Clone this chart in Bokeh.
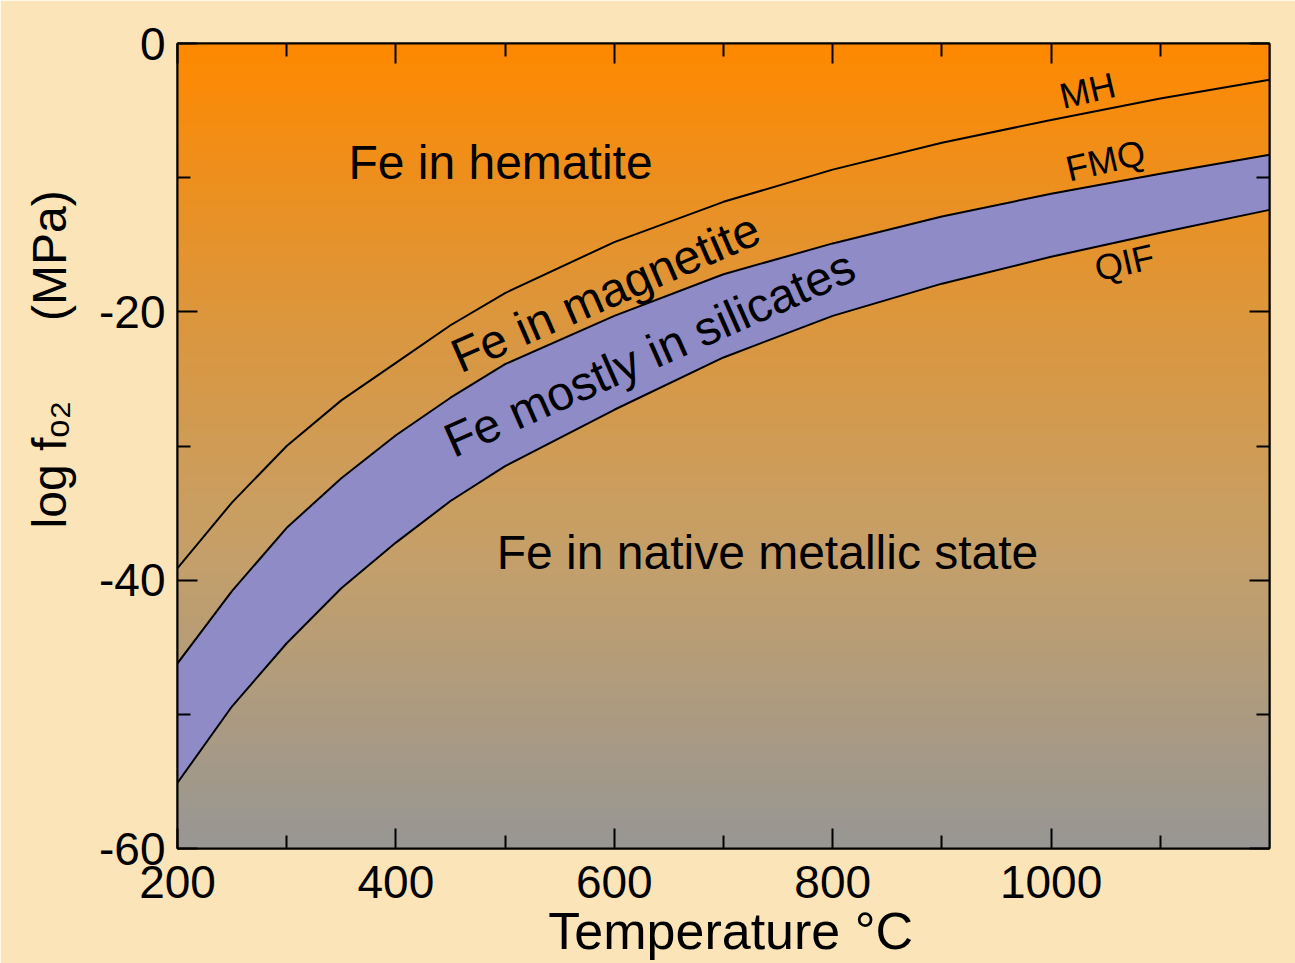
import numpy as np
from bokeh.plotting import figure
from bokeh.models import Range1d, LinearAxis, FixedTicker, Label
from bokeh.embed import file_html
from bokeh.resources import INLINE

# ---- data ----
temps = [200, 250, 300, 350, 400, 450, 500, 600, 700, 800, 900, 1000, 1100, 1200]
mh = [-39.1, -34.2, -30.0, -26.6, -23.8, -21.0, -18.6, -14.8, -11.8, -9.4, -7.4, -5.7, -4.1, -2.7]
fmq = [-46.2, -40.8, -36.1, -32.4, -29.2, -26.4, -23.9, -20.3, -17.2, -14.9, -12.9, -11.2, -9.7, -8.3]
qif = [-55.1, -49.4, -44.7, -40.6, -37.2, -34.1, -31.5, -27.3, -23.4, -20.3, -17.9, -15.9, -14.1, -12.4]

x_major = [200, 400, 600, 800, 1000]
x_minor = [300, 500, 700, 900, 1100]
y_major = [0, -20, -40, -60]
y_minor = [-10, -30, -50]
y_tick_labels = {0: "0", -20: "-20", -40: "-40", -60: "-60"}

x_title = "\u00a0Temperature \u00b0C"
y_title = "\u00a0" * 13 + "log f\u2092\u2082" + "\u00a0" * 6 + "(MPa)"

region_labels = ["Fe in hematite", "Fe in magnetite", "Fe mostly in silicates",
                 "Fe in native metallic state"]
curve_labels = ["MH", "FMQ", "QIF"]

FONT = "Liberation Sans"
PANEL = "#FBE4B7"

# page-pixel helpers (frame spans page x 177..1269, y 43..848)
def px2x(px):
    return 200 + (px - 177) * 1000 / 1092

def py2y(py):
    return -(py - 43) * 60 / 805

p = figure(width=1295, height=963, output_backend="svg", toolbar_location=None,
           x_range=Range1d(200, 1200), y_range=Range1d(-60, 0),
           min_border_left=177, min_border_right=26, min_border_top=43,
           min_border_bottom=115)
p.border_fill_color = PANEL
p.background_fill_color = PANEL
p.outline_line_color = "black"
p.outline_line_width = 2
p.grid.visible = False

# background gradient (orange -> grey)
n = 300
t = np.linspace(0, 1, n)  # 0 = bottom, 1 = top
stops_t = [0.0, 0.37, 0.68, 1.0]
r = np.interp(t, stops_t, [152, 198, 222, 255])
g = np.interp(t, stops_t, [151, 160, 150, 137])
b = np.interp(t, stops_t, [148, 105, 58, 0])
img = np.empty((n, 1), dtype=np.uint32)
view = img.view(dtype=np.uint8).reshape((n, 1, 4))
view[:, 0, 0] = r.astype(np.uint8)
view[:, 0, 1] = g.astype(np.uint8)
view[:, 0, 2] = b.astype(np.uint8)
view[:, 0, 3] = 255
p.image_rgba(image=[img], x=200, y=-60, dw=1000, dh=60)

# silicate band
p.varea(x=temps, y1=qif, y2=fmq, fill_color="#8E8BC7")
for ys in (mh, fmq, qif):
    p.line(temps, ys, line_color="black", line_width=2)

# axes
def style_axis(ax, ticks, minors):
    ax.ticker = FixedTicker(ticks=ticks, minor_ticks=minors)
    ax.major_tick_in = 20
    ax.major_tick_out = 0
    ax.minor_tick_in = 13
    ax.minor_tick_out = 0
    ax.major_tick_line_width = 2
    ax.minor_tick_line_width = 2
    ax.axis_line_width = 2
    ax.major_label_text_font = FONT
    ax.major_label_text_color = "black"
    ax.major_label_text_font_size = "46px"
    ax.axis_label_text_font = FONT
    ax.axis_label_text_font_style = "normal"
    ax.axis_label_text_color = "black"

xa = p.xaxis[0]
style_axis(xa, x_major, x_minor)
xa.major_label_standoff = 17
xa.axis_label = x_title
xa.axis_label_text_font_size = "52px"
xa.axis_label_standoff = 1

ya = p.yaxis[0]
style_axis(ya, y_major, y_minor)
ya.major_label_standoff = 12
ya.major_label_overrides = y_tick_labels
ya.axis_label = y_title
ya.axis_label_text_font_size = "48px"
ya.axis_label_standoff = 20

top = LinearAxis()
style_axis(top, x_major, x_minor)
top.major_label_overrides = {v: "" for v in x_major}
top.major_label_text_font_size = "10px"
p.add_layout(top, "above")
right = LinearAxis()
style_axis(right, y_major, y_minor)
right.major_label_overrides = {v: "" for v in y_major}
right.major_label_text_font_size = "10px"
p.add_layout(right, "right")

def lab(text, px, py, size, angle=0.0):
    p.add_layout(Label(x=px2x(px), y=py2y(py), text=text, angle=angle,
                       text_font=FONT, text_font_size=f"{size}px",
                       text_color="black", text_align="center",
                       text_baseline="middle"))

# region labels
lab(region_labels[0], 500, 162, 48)
lab(region_labels[1], 605, 292, 48, angle=np.radians(23.5))
lab(region_labels[2], 649, 353, 48, angle=np.radians(23.9))
lab(region_labels[3], 767, 552, 48)

# curve labels
lab(curve_labels[0], 1087, 90, 36, angle=np.radians(13))
lab(curve_labels[1], 1105, 160, 36, angle=np.radians(13))
lab(curve_labels[2], 1124, 262, 36, angle=np.radians(13))

open("out.html", "w").write(file_html(p, INLINE))
